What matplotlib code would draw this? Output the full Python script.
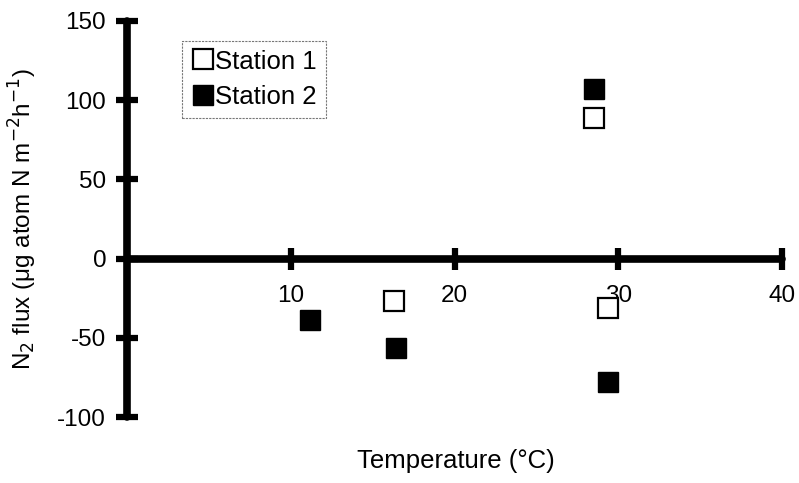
import matplotlib.pyplot as plt

plt.rcParams['font.family'] = ['Liberation Sans', 'DejaVu Sans']
plt.rcParams['axes.unicode_minus'] = False

# data
temp_st1 = [16.3, 28.5, 29.4]
flux_st1 = [-26.5, 89, -31]
temp_st2 = [11.2, 16.4, 28.5, 29.4]
flux_st2 = [-39, -56.5, 107, -78]

xticks = [10, 20, 30, 40]
yticks = [-100, -50, 0, 50, 100, 150]

fig = plt.figure(figsize=(7.99, 4.83), dpi=100)
ax = fig.add_axes([127 / 799, 1 - 417 / 483, 655 / 799, 396 / 483])

ax.plot(temp_st1, flux_st1, 's', ms=14, mfc='white', mec='black', mew=1.6,
        ls='none', label='Station 1', zorder=5)
ax.plot(temp_st2, flux_st2, 's', ms=15, mfc='black', mec='black', mew=1,
        ls='none', label='Station 2', zorder=5)

ax.set_xlim(0, 40)
ax.set_ylim(-100, 150)

# axes cross at the origin
ax.spines['left'].set_position(('data', 0))
ax.spines['bottom'].set_position(('data', 0))
ax.spines['right'].set_visible(False)
ax.spines['top'].set_visible(False)
for s in ('left', 'bottom'):
    ax.spines[s].set_linewidth(5.5)
    ax.spines[s].set_capstyle('round')

ax.set_xticks(xticks)
ax.set_yticks(yticks)
ax.tick_params(axis='both', direction='inout', length=16, width=4.5,
               labelsize=17.5)
ax.tick_params(axis='x', pad=11)
ax.tick_params(axis='y', pad=7)

ax.set_xlabel('Temperature (°C)', fontsize=18.5, va='top')
ax.xaxis.set_label_coords(0.502, -0.08)
ax.set_ylabel('N$_2$ flux (μg atom N m$^{-2}$h$^{-1}$)', fontsize=17.5)
ax.yaxis.set_label_coords(-0.135, 0.5)

leg = ax.legend(loc='upper left', bbox_to_anchor=(0.084, 0.95),
                borderaxespad=0, fontsize=18.5, fancybox=False,
                handletextpad=0.05, handlelength=0.9, borderpad=0.35,
                labelspacing=0.45, markerscale=1.0, handleheight=0.8)
leg.get_frame().set_edgecolor('#555555')
leg.get_frame().set_linestyle((0, (2, 1)))
leg.get_frame().set_linewidth(0.8)

fig.savefig('out.png', dpi=100)
